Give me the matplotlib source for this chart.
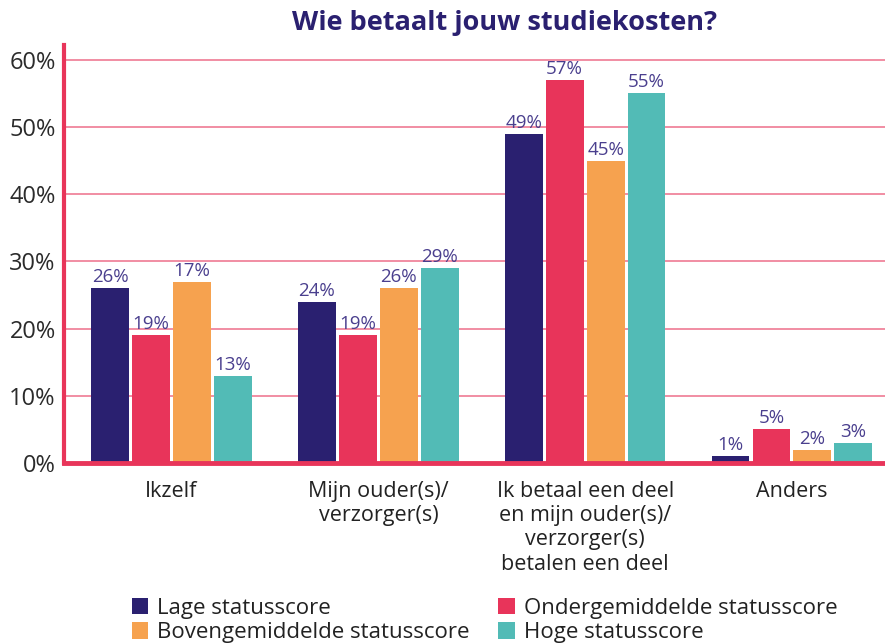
import numpy as np
import matplotlib
matplotlib.use("Agg")
import matplotlib.pyplot as plt
from matplotlib.patches import Patch

plt.rcParams['font.family'] = ['Open Sans', 'DejaVu Sans']

# data
categories = ['Ikzelf', 'Mijn ouder(s)/\nverzorger(s)',
              'Ik betaal een deel\nen mijn ouder(s)/\nverzorger(s)\nbetalen een deel', 'Anders']
series = ['Lage statusscore', 'Ondergemiddelde statusscore',
          'Bovengemiddelde statusscore', 'Hoge statusscore']
lage = [26, 24, 49, 1]
onder = [19, 19, 57, 5]
boven = [27, 26, 45, 2]
hoge = [13, 29, 55, 3]
# labels as printed in the source (note 17% on a 27% bar)
lage_lbl = ['26%', '24%', '49%', '1%']
onder_lbl = ['19%', '19%', '57%', '5%']
boven_lbl = ['17%', '26%', '45%', '2%']
hoge_lbl = ['13%', '29%', '55%', '3%']
yticks = [0, 10, 20, 30, 40, 50, 60]

colors = ['#2a2070', '#e8345a', '#f6a24f', '#52bbb6']
pink = '#e8355a'
grid_pink = '#ef7a93'
label_purple = '#4a3f8e'

fig = plt.figure(figsize=(8.85, 6.44), dpi=100)
ax = fig.add_axes([64 / 885, (644 - 463) / 644, 1 - 64 / 885, 418 / 644])

x = np.arange(len(categories))
step = 0.198
width = 0.183
vals = [lage, onder, boven, hoge]
lbls = [lage_lbl, onder_lbl, boven_lbl, hoge_lbl]
for i, (v, l, c) in enumerate(zip(vals, lbls, colors)):
    pos = x + (i - 1.5) * step
    ax.bar(pos, v, width=width, color=c, zorder=3)
    for px, py, t in zip(pos, v, l):
        ax.text(px, py + 0.3, t, ha='center', va='bottom', fontsize=13.5,
                color=label_purple, zorder=4)

ax.set_xlim(-0.52, 3.45)
ax.set_ylim(0, 62.2)
ax.set_yticks(yticks)
ax.set_yticklabels([f'{t}%' for t in yticks], fontsize=17, color='#2b2b2b')
for t in yticks[1:]:
    ax.axhline(t, color=grid_pink, lw=1.2, zorder=1)

ax.set_xticks(x)
ax.set_xticklabels(categories, fontsize=15.5, color='#222222', linespacing=1.2)
ax.tick_params(axis='both', length=0)
ax.tick_params(axis='x', pad=13)
ax.tick_params(axis='y', pad=6)

for s in ['top', 'right']:
    ax.spines[s].set_visible(False)
ax.spines['left'].set_color(pink)
ax.spines['left'].set_linewidth(3)
ax.spines['bottom'].set_color(pink)
ax.spines['bottom'].set_linewidth(3.5)
ax.spines['bottom'].set_zorder(5)

fig.text(0.57, 0.964, 'Wie betaalt jouw studiekosten?', ha='center', va='center',
         fontsize=19.5, fontweight='bold', color='#2a2070')

# column-major order so rows read: Lage / Onder, Boven / Hoge
order = [0, 2, 1, 3]
handles = [Patch(facecolor=colors[i], label=series[i]) for i in order]
fig.legend(handles=handles, ncol=2, loc='lower left', bbox_to_anchor=(0.126, -0.03),
           frameon=False, fontsize=16, handlelength=0.75, handleheight=0.75,
           handletextpad=0.4, columnspacing=1.3, labelspacing=0.15,
           labelcolor='#222222')

fig.savefig('out.png', dpi=100)
